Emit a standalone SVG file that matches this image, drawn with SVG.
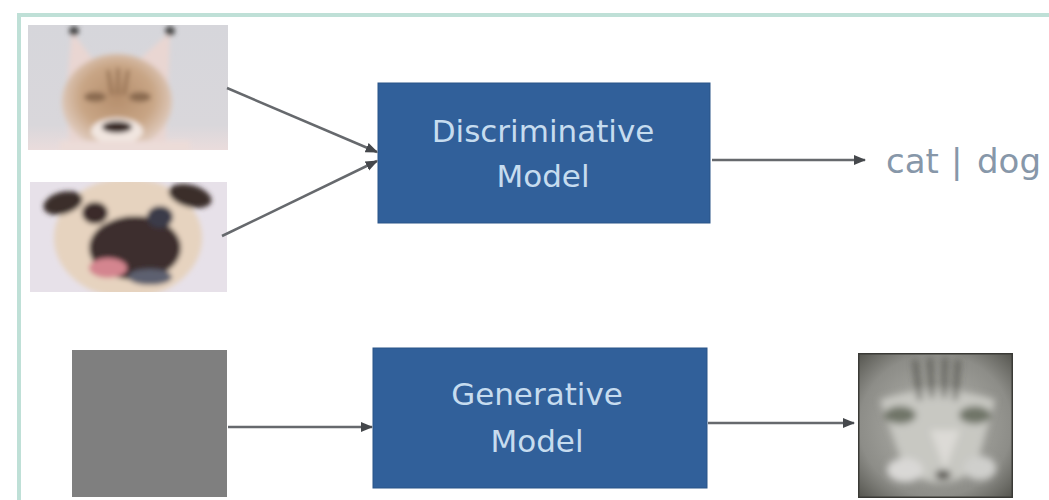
<svg xmlns="http://www.w3.org/2000/svg" width="1049" height="500" viewBox="0 0 1049 500">
  <style>
    .frame { fill: none; stroke: #bfe0d7; stroke-width: 4; }
    .model { fill: #31609a; stroke: #2a5488; stroke-width: 1; }
    .mtext { font-family: "DejaVu Sans", Verdana, sans-serif; font-size: 31px; fill: #c6dcef; text-anchor: middle; }
    .label { font-family: "DejaVu Sans", Verdana, sans-serif; font-size: 34px; fill: #8797a9; }
    .conn { stroke: #66696d; stroke-width: 2.5; fill: none; marker-end: url(#arrow); }
  </style>
  <defs>
    <marker id="arrow" viewBox="0 0 10 10" refX="9" refY="5" markerWidth="5" markerHeight="5" orient="auto" markerUnits="strokeWidth">
      <path d="M0,1 L10,5 L0,9 Z" fill="#45484c"/>
    </marker>
    <filter id="soft" x="-10%" y="-10%" width="120%" height="120%">
      <feGaussianBlur stdDeviation="2.5"/>
    </filter>
    <filter id="soft2" x="-10%" y="-10%" width="120%" height="120%">
      <feGaussianBlur stdDeviation="3.5"/>
    </filter>
    <clipPath id="clipCat"><rect x="28" y="25" width="200" height="125"/></clipPath>
    <clipPath id="clipDog"><rect x="30" y="182" width="197" height="110"/></clipPath>
    <clipPath id="clipGen"><rect x="858" y="353" width="155" height="145"/></clipPath>
    <linearGradient id="catBg" x1="0" y1="0" x2="0" y2="1">
      <stop offset="0" stop-color="#d6d6db"/>
      <stop offset="0.8" stop-color="#d9d7db"/>
      <stop offset="1" stop-color="#eadcdc"/>
    </linearGradient>
    <radialGradient id="catFur" cx="0.5" cy="0.45" r="0.55">
      <stop offset="0" stop-color="#b58e6c"/>
      <stop offset="0.6" stop-color="#c8a585"/>
      <stop offset="1" stop-color="#e2cfc4"/>
    </radialGradient>
    <radialGradient id="genBg" cx="0.5" cy="0.5" r="0.7">
      <stop offset="0" stop-color="#b8b8b2"/>
      <stop offset="0.7" stop-color="#8d8d88"/>
      <stop offset="1" stop-color="#55554f"/>
    </radialGradient>
  </defs>

  <g id="frame">
    <path class="frame" d="M19,500 V15 H1049"/>
  </g>

  <g id="cat-photo">
    <g clip-path="url(#clipCat)">
      <rect x="28" y="25" width="200" height="125" fill="url(#catBg)"/>
      <g filter="url(#soft)">
        <path d="M72,32 L98,66 L132,66 L170,32 L168,95 L165,150 L70,150 L66,95 Z" fill="#e9d6d2"/>
        <ellipse cx="117" cy="102" rx="55" ry="48" fill="url(#catFur)"/>
        <circle cx="74" cy="31" r="5" fill="#4a4a4a"/>
        <circle cx="170" cy="31" r="5" fill="#4a4a4a"/>
        <path d="M108,70 L112,95 M118,68 L118,95 M128,70 L124,95" stroke="#8e6a4c" stroke-width="3"/>
        <ellipse cx="95" cy="97" rx="11" ry="5" fill="#8a6a50"/>
        <ellipse cx="140" cy="97" rx="11" ry="5" fill="#8a6a50"/>
        <ellipse cx="117" cy="131" rx="26" ry="13" fill="#f1e6e0"/>
        <ellipse cx="117" cy="127" rx="15" ry="6" fill="#3a2a28"/>
        <rect x="60" y="141" width="130" height="12" fill="#ecdcd8"/>
      </g>
    </g>
  </g>

  <g id="dog-photo">
    <g clip-path="url(#clipDog)">
      <rect x="30" y="182" width="197" height="110" fill="#e7e1e9"/>
      <g filter="url(#soft)">
        <ellipse cx="128" cy="238" rx="74" ry="60" fill="#e6d3bf"/>
        <ellipse cx="63" cy="203" rx="20" ry="11" fill="#3b2e2c" transform="rotate(-15 63 203)"/>
        <ellipse cx="190" cy="196" rx="22" ry="11" fill="#3b2e2c" transform="rotate(15 190 196)"/>
        <ellipse cx="135" cy="248" rx="46" ry="32" fill="#3d2f2e"/>
        <ellipse cx="95" cy="213" rx="13" ry="11" fill="#3a2b29"/>
        <ellipse cx="160" cy="217" rx="13" ry="11" fill="#3a3a48"/>
        <ellipse cx="108" cy="268" rx="19" ry="10" fill="#d4858f"/>
        <ellipse cx="150" cy="277" rx="22" ry="8" fill="#5d6070"/>
      </g>
    </g>
  </g>

  <g id="noise-input">
    <rect x="72" y="350" width="155" height="147" fill="#7f7f7f"/>
  </g>

  <g id="discriminative-model">
    <rect class="model" x="378" y="83" width="332" height="140"/>
    <text class="mtext" x="543" y="142">Discriminative</text>
    <text class="mtext" x="543" y="187">Model</text>
  </g>

  <g id="generative-model">
    <rect class="model" x="373" y="348" width="334" height="140"/>
    <text class="mtext" x="537" y="405">Generative</text>
    <text class="mtext" x="537" y="452">Model</text>
  </g>

  <g id="output-label">
    <text class="label" y="173"><tspan x="886">cat</tspan><tspan x="951">|</tspan><tspan x="977">dog</tspan></text>
  </g>

  <g id="generated-cat">
    <g clip-path="url(#clipGen)">
      <rect x="858" y="353" width="155" height="145" fill="url(#genBg)"/>
      <g filter="url(#soft2)">
        <path d="M880,400 Q935,380 995,400 L975,470 Q940,495 905,470 Z" fill="#c8c8c2"/>
        <path d="M915,360 L920,400 M930,358 L932,398 M945,358 L944,398 M958,360 L955,400" stroke="#505048" stroke-width="4"/>
        <ellipse cx="900" cy="415" rx="16" ry="9" fill="#6f7468"/>
        <ellipse cx="975" cy="415" rx="16" ry="9" fill="#6f7468"/>
        <path d="M930,430 L945,470 L960,430 Z" fill="#dcdad6"/>
        <ellipse cx="943" cy="475" rx="8" ry="5" fill="#55524e"/>
        <ellipse cx="905" cy="470" rx="18" ry="12" fill="#d9d8d6"/>
        <ellipse cx="980" cy="468" rx="16" ry="12" fill="#cfcfcc"/>
      </g>
      <rect x="858" y="353" width="155" height="145" fill="none" stroke="#3a3a36" stroke-width="3"/>
    </g>
  </g>

  <g id="connectors">
    <line class="conn" x1="227" y1="88" x2="377" y2="152"/>
    <line class="conn" x1="222" y1="236" x2="377" y2="161"/>
    <line class="conn" x1="712" y1="160" x2="865" y2="160"/>
    <line class="conn" x1="228" y1="427" x2="372" y2="427"/>
    <line class="conn" x1="708" y1="423" x2="854" y2="423"/>
  </g>
</svg>
